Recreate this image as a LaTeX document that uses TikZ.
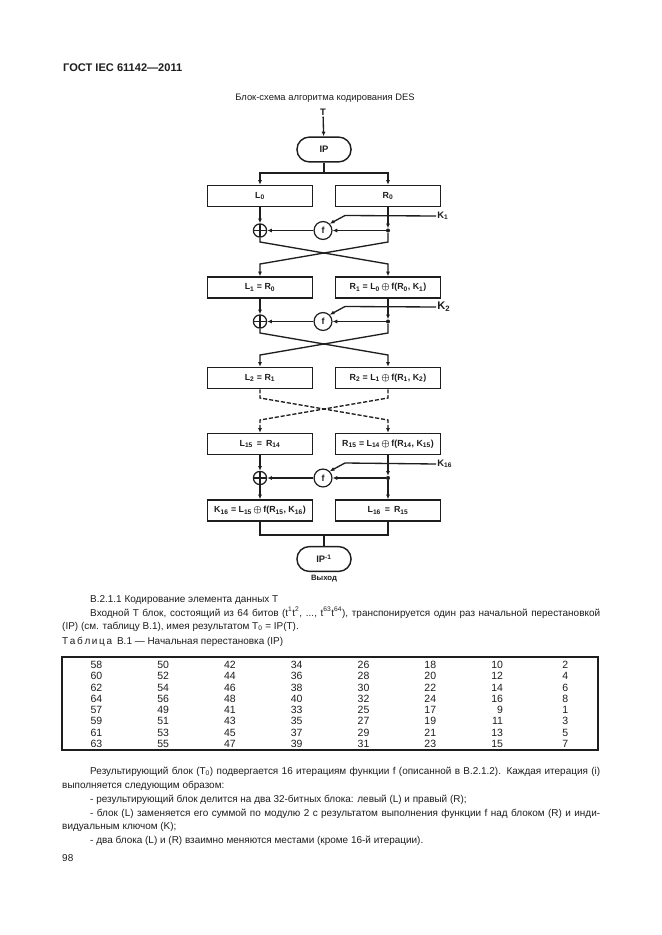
\documentclass[tikz,border=0pt]{standalone}
\usepackage{fontspec}
\setmainfont{Liberation Sans}
\usepackage{array}
\usetikzlibrary{arrows.meta,shapes.misc}
\definecolor{ink}{HTML}{1E1E1E}

\tikzset{
  blk/.style={draw,ink,line width=1.3pt,minimum width=33.2mm,minimum height=6.7mm,inner sep=0pt,font=\bfseries\fontsize{8}{9}\selectfont},
  term/.style={draw,ink,line width=1.3pt,rounded rectangle,minimum width=17.2mm,minimum height=7.9mm,inner sep=0pt,font=\bfseries\fontsize{8.5}{9}\selectfont},
  xo/.style={draw,ink,circle,line width=1.1pt,minimum size=4.2mm,inner sep=0pt,
    path picture={\draw[line width=1pt] (path picture bounding box.north) -- (path picture bounding box.south)
      (path picture bounding box.west) -- (path picture bounding box.east);}},
  fn/.style={draw,ink,circle,line width=1.1pt,minimum size=5.7mm,inner sep=0pt,font=\bfseries\fontsize{8}{9}\selectfont},
  dot/.style={circle,fill=ink,minimum size=1.3mm,inner sep=0pt},
  wire/.style={ink,line width=1.2pt},
  arr/.style={wire,-{Latex[length=1.5mm,width=1.3mm]}},
  key/.style={ink,anchor=west,inner sep=1pt,font=\bfseries\fontsize{8.5}{9}\selectfont},
  txt/.style={ink,anchor=base west,inner sep=0pt,font=\fontsize{9}{11}\selectfont},
}
\newcommand{\xr}{{\boldmath$\oplus$}}

\begin{document}
\begin{tikzpicture}[x=0.3177mm,y=-0.3177mm]
\fill[white] (0,0) rectangle (661,935);
\useasboundingbox (0,0) rectangle (661,935);

% ===== Page head =====
\node[ink,anchor=base west,inner sep=0pt,font=\bfseries\fontsize{10}{12}\selectfont] (gost) at (63,72) {ГОСТ IEC 61142—2011};
\node[ink,anchor=base,inner sep=0pt,font=\fontsize{8.5}{10}\selectfont] (title) at (325,101) {Блок-схема алгоритма кодирования DES};

% ===== Input =====
\node[ink,inner sep=1pt,font=\bfseries\fontsize{8.5}{9}\selectfont] (T) at (323,112) {T};
\node[term] (ip) at (324,149.5) {IP};
\draw[arr] (T) -- (ip);
\coordinate (fk) at (324,173);
\draw[wire] (ip.south) -- (fk);

% ===== Round 1 =====
\node[blk] (L0) at (260,196) {L\textsubscript{0}};
\node[blk] (R0) at (388,196) {R\textsubscript{0}};
\draw[arr] (fk) -| (L0.north);
\draw[arr] (fk) -| (R0.north);
\node[xo] (x1) at (260,230.5) {};
\node[fn] (f1) at (323,230.5) {f};
\node[dot] (d1) at (388,230.5) {};
\node[key] (K1) at (436,216) {K\textsubscript{1}};
\coordinate (k1) at (345,215.5);
\draw[arr] (L0) -- (x1);
\draw[arr] (R0) -- (d1);
\draw[arr] (d1) -- (f1);
\draw[arr] (f1) -- (x1);
\draw[arr] (K1.west) -- (k1) -- (f1.north east);

% Swap 1
\node[blk] (L1) at (260,287.5) {L\textsubscript{1} = R\textsubscript{0}};
\node[blk] (R1) at (388,287.5) {R\textsubscript{1} = L\textsubscript{0}\,\xr\,f(R\textsubscript{0}, K\textsubscript{1})};
\draw[arr] (x1.south) -- (260,242) -- (388,264) -- (R1.north);
\draw[arr] (d1) -- (388,242) -- (260,264) -- (L1.north);

% ===== Round 2 =====
\node[xo] (x2) at (260,321.5) {};
\node[fn] (f2) at (323,321.5) {f};
\node[dot] (d2) at (388,321.5) {};
\node[key,font=\bfseries\fontsize{10}{10}\selectfont] (K2) at (436,307) {K\textsubscript{2}};
\coordinate (k2) at (345,306.5);
\draw[arr] (L1) -- (x2);
\draw[arr] (R1) -- (d2);
\draw[arr] (d2) -- (f2);
\draw[arr] (f2) -- (x2);
\draw[arr] (K2.west) -- (k2) -- (f2.north east);

% Swap 2
\node[blk] (L2) at (260,378) {L\textsubscript{2} = R\textsubscript{1}};
\node[blk] (R2) at (388,378) {R\textsubscript{2} = L\textsubscript{1}\,\xr\,f(R\textsubscript{1}, K\textsubscript{2})};
\draw[arr] (x2.south) -- (260,333) -- (388,355) -- (R2.north);
\draw[arr] (d2) -- (388,333) -- (260,355) -- (L2.north);

% ===== Rounds 3..15 (skipped) =====
\node[blk] (L15) at (260,444) {L\textsubscript{15} \,=\, R\textsubscript{14}};
\node[blk] (R15) at (388,444) {R\textsubscript{15} = L\textsubscript{14}\,\xr\,f(R\textsubscript{14}, K\textsubscript{15})};
\draw[arr,dash pattern=on 1.3mm off 0.6mm] (L2.south) -- (260,398) -- (388,420) -- (R15.north);
\draw[arr,dash pattern=on 1.3mm off 0.6mm] (R2.south) -- (388,398) -- (260,420) -- (L15.north);

% ===== Round 16 =====
\node[xo] (x16) at (260,478) {};
\node[fn] (f16) at (323,478) {f};
\node[dot] (d16) at (388,478) {};
\node[key] (K16) at (436,464) {K\textsubscript{16}};
\coordinate (k16) at (345,463);
\draw[arr] (L15) -- (x16);
\draw[arr] (R15) -- (d16);
\draw[arr] (d16) -- (f16);
\draw[arr] (f16) -- (x16);
\draw[arr] (K16.west) -- (k16) -- (f16.north east);

\node[blk] (L16) at (260,510.5) {K\textsubscript{16} = L\textsubscript{15}\,\xr\,f(R\textsubscript{15}, K\textsubscript{16})};
\node[blk] (R16) at (388,510.5) {L\textsubscript{16} \,=\, R\textsubscript{15}};
\draw[arr] (x16) -- (L16);
\draw[arr] (d16) -- (R16);

% ===== Output =====
\node[term] (ipi) at (324,559) {IP\textsuperscript{-1}};
\node[ink,inner sep=0pt,font=\bfseries\fontsize{7}{7}\selectfont] (out) at (324,579) {Выход};
\coordinate (jn) at (324,535);
\draw[wire] (L16.south) -- (260,535) -- (388,535) -- (R16.south);
\draw[wire] (jn) -- (ipi.north);

% ===== Text above the table =====
\node[txt] (p1) at (90,602) {В.2.1.1 Кодирование элемента данных T};
\node[txt] (p2) at (90,616) {\makebox[162mm][s]{Входной T блок, состоящий из 64 битов (t\textsuperscript{1}t\textsuperscript{2}, ..., t\textsuperscript{63}t\textsuperscript{64}), транспонируется один раз начальной перестановкой}};
\node[txt] (p3) at (62,629.5) {(IP) (см. таблицу В.1), имея результатом T\textsubscript{0} = IP(T).};
\node[txt] (cap) at (62,644.5) {Т\,а\,б\,л\,и\,ц\,а\enspace В.1 — Начальная перестановка (IP)};

% ===== Table B.1 =====
\draw[ink,line width=1.6pt] (62,657) rectangle (598,750);
\node[ink,anchor=base west,inner sep=0pt,font=\fontsize{9.5}{11.3}\selectfont] (tab) at (35.2,668.5) {%
  \setlength{\tabcolsep}{0pt}%
  \renewcommand{\arraystretch}{1.0}%
  \fontsize{9.5}{10.2}\selectfont
  \begin{tabular}[t]{@{}*{7}{>{\raggedleft\arraybackslash}p{21.22mm}}>{\raggedleft\arraybackslash}p{20.71mm}@{}}
  58 & 50 & 42 & 34 & 26 & 18 & 10 & 2 \\
  60 & 52 & 44 & 36 & 28 & 20 & 12 & 4 \\
  62 & 54 & 46 & 38 & 30 & 22 & 14 & 6 \\
  64 & 56 & 48 & 40 & 32 & 24 & 16 & 8 \\
  57 & 49 & 41 & 33 & 25 & 17 & 9 & 1 \\
  59 & 51 & 43 & 35 & 27 & 19 & 11 & 3 \\
  61 & 53 & 45 & 37 & 29 & 21 & 13 & 5 \\
  63 & 55 & 47 & 39 & 31 & 23 & 15 & 7
  \end{tabular}};

% ===== Text below the table =====
\node[txt] (q1) at (90,774) {\makebox[162mm][s]{Результирующий блок (T\textsubscript{0}) подвергается 16 итерациям функции f (описанной в В.2.1.2). Каждая итерация (i)}};
\node[txt] (q2) at (62,788) {выполняется следующим образом:};
\node[txt] (q3) at (90,802) {- результирующий блок делится на два 32-битных блока: левый (L) и правый (R);};
\node[txt] (q4) at (90,816) {\makebox[162mm][s]{- блок (L) заменяется его суммой по модулю 2 с результатом выполнения функции f над блоком (R) и инди-}};
\node[txt] (q5) at (62,829) {видуальным ключом (K);};
\node[txt] (q6) at (90,843) {- два блока (L) и (R) взаимно меняются местами (кроме 16-й итерации).};
\node[txt] (page) at (62,861) {98};

\end{tikzpicture}
\end{document}
